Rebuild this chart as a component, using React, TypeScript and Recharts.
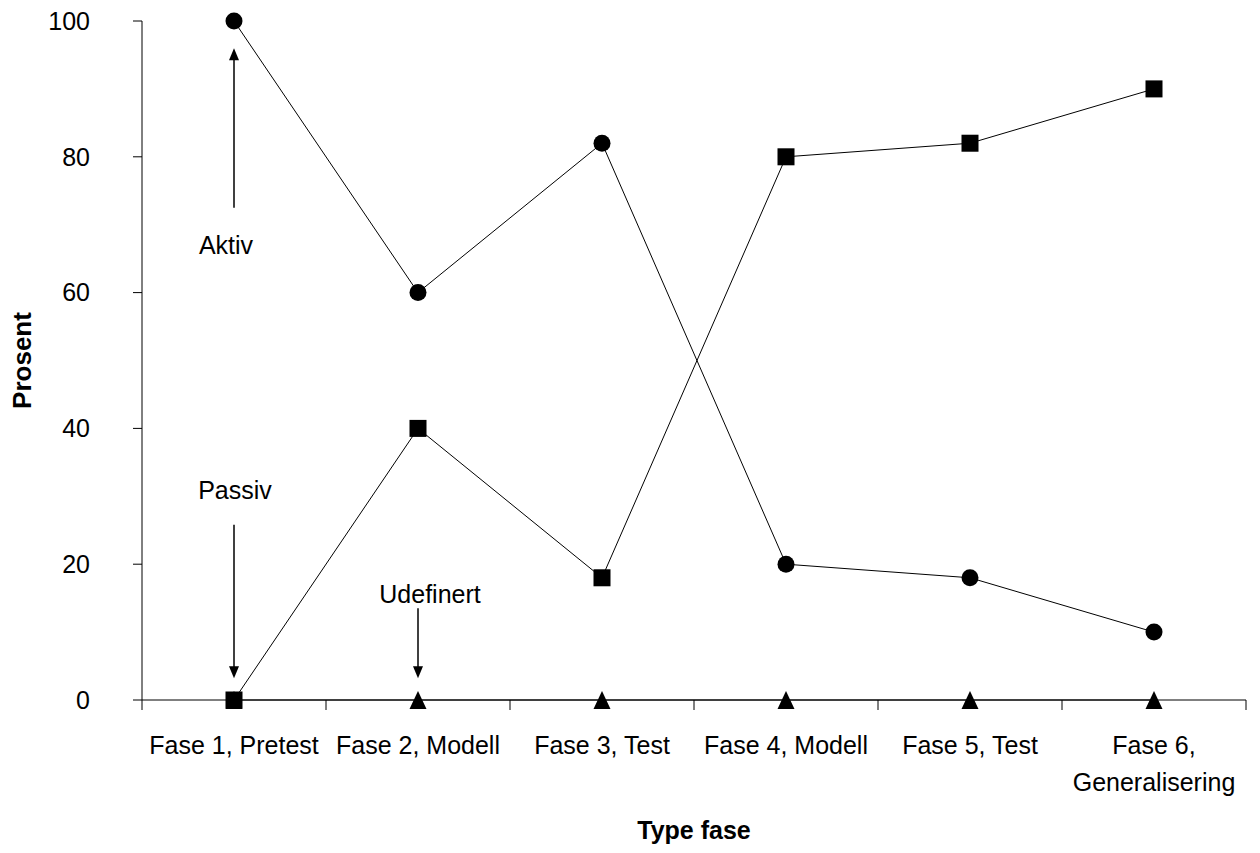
import { LineChart, Line, XAxis, YAxis, ReferenceLine, ReferenceDot, Label } from 'recharts';

const categories = [
  'Fase 1, Pretest',
  'Fase 2, Modell',
  'Fase 3, Test',
  'Fase 4, Modell',
  'Fase 5, Test',
  'Fase 6,\nGeneralisering',
];
const aktiv = [100, 60, 82, 20, 18, 10];
const passiv = [0, 40, 18, 80, 82, 90];
const udefinert = [0, 0, 0, 0, 0, 0];
const yTicks = [0, 20, 40, 60, 80, 100];

// annotation text + arrow (values in percent, category index)
const notes = [
  { text: 'Aktiv', at: 0, textY: 67, from: 72.5, to: 96, dx: -8 },
  { text: 'Passiv', at: 0, textY: 31, from: 25.8, to: 3.2, dx: 1 },
  { text: 'Udefinert', at: 1, textY: 15.6, from: 13.5, to: 3.2, dx: 12 },
];

const data = categories.map((name, i) => ({
  name,
  aktiv: aktiv[i],
  passiv: passiv[i],
  udefinert: udefinert[i],
}));

const W = 1260;
const H = 853;
const LEFT = 142;
const RIGHT = 14;
const PLOT_W = W - LEFT - RIGHT;
const STEP = PLOT_W / categories.length;
const FONT = '"Liberation Sans", Arial, sans-serif';

function CategoryTick(props: any) {
  const { x, y, payload, index } = props;
  const lines = String(payload.value).split('\n');
  return (
    <g>
      <line x1={x - STEP / 2} y1={y} x2={x - STEP / 2} y2={y + 10} stroke="#000" />
      {index === categories.length - 1 && (
        <line x1={x + STEP / 2} y1={y} x2={x + STEP / 2} y2={y + 10} stroke="#000" />
      )}
      <text x={x} y={y + 54} textAnchor="middle" fontSize={25} fill="#000" fontFamily={FONT}>
        {lines.map((l, i) => (
          <tspan key={i} x={x} dy={i === 0 ? 0 : 37}>
            {l}
          </tspan>
        ))}
      </text>
    </g>
  );
}

function Circle(props: any) {
  const { cx, cy } = props;
  return <circle cx={cx} cy={cy} r={8.5} fill="#000" />;
}

function Square(props: any) {
  const { cx, cy } = props;
  return <rect x={cx - 8.5} y={cy - 8.5} width={17} height={17} fill="#000" />;
}

function Triangle(props: any) {
  const { cx, cy } = props;
  return <polygon points={`${cx},${cy - 9} ${cx - 8.5},${cy + 9} ${cx + 8.5},${cy + 9}`} fill="#000" />;
}

function Arrow(props: any) {
  const { x1, y1, x2, y2 } = props;
  const dir = y2 > y1 ? 1 : -1;
  return (
    <g>
      <line x1={x1} y1={y1} x2={x2} y2={y2 - dir * 10} stroke="#000" strokeWidth={1.5} />
      <polygon points={`${x2},${y2} ${x2 - 5},${y2 - dir * 12} ${x2 + 5},${y2 - dir * 12}`} fill="#000" />
    </g>
  );
}

export default function App() {
  return (
    <div style={{ position: 'absolute', left: 0, top: 0, background: '#fff' }}>
      <LineChart width={W} height={H} data={data} margin={{ top: 21, right: RIGHT, bottom: 0, left: 0 }}>
        <XAxis
          dataKey="name"
          height={153}
          interval={0}
          padding={{ left: STEP / 2, right: STEP / 2 }}
          axisLine={{ stroke: '#000' }}
          tickLine={false}
          tickSize={0}
          tickMargin={0}
          tick={<CategoryTick />}
        >
          <Label
            content={({ viewBox }: any) => (
              <text
                x={viewBox.x + viewBox.width / 2}
                y={viewBox.y + 139}
                textAnchor="middle"
                fontSize={25}
                fontWeight="bold"
                fill="#000"
                fontFamily={FONT}
              >
                Type fase
              </text>
            )}
          />
        </XAxis>
        <YAxis
          width={LEFT}
          domain={[0, 100]}
          ticks={yTicks}
          axisLine={{ stroke: '#000' }}
          tickLine={{ stroke: '#000' }}
          tickSize={9}
          tickMargin={43}
          tick={{ fontSize: 25, fill: '#000', fontFamily: FONT }}
        >
          <Label
            content={({ viewBox }: any) => {
              const cx = viewBox.x + 22;
              const cy = viewBox.y + viewBox.height / 2;
              return (
                <text
                  x={cx}
                  y={cy}
                  transform={`rotate(-90, ${cx}, ${cy})`}
                  textAnchor="middle"
                  dominantBaseline="central"
                  fontSize={26}
                  fontWeight="bold"
                  fill="#000"
                  fontFamily={FONT}
                >
                  Prosent
                </text>
              );
            }}
          />
        </YAxis>
        {notes.map((n) => (
          <ReferenceLine
            key={'a' + n.text}
            segment={[
              { x: categories[n.at], y: n.from },
              { x: categories[n.at], y: n.to },
            ]}
            shape={<Arrow />}
          />
        ))}
        {notes.map((n) => (
          <ReferenceDot
            key={'t' + n.text}
            x={categories[n.at]}
            y={n.textY}
            r={0}
            fill="none"
            stroke="none"
            label={{
              content: ({ viewBox }: any) => (
                <text
                  x={viewBox.x + viewBox.width / 2 + n.dx}
                  y={viewBox.y + viewBox.height / 2}
                  textAnchor="middle"
                  dominantBaseline="central"
                  fontSize={25}
                  fill="#000"
                  fontFamily={FONT}
                >
                  {n.text}
                </text>
              ),
            }}
          />
        ))}
        <Line dataKey="udefinert" stroke="#000" strokeWidth={1} dot={<Triangle />} activeDot={false} isAnimationActive={false} />
        <Line dataKey="aktiv" stroke="#000" strokeWidth={1} dot={<Circle />} activeDot={false} isAnimationActive={false} />
        <Line dataKey="passiv" stroke="#000" strokeWidth={1} dot={<Square />} activeDot={false} isAnimationActive={false} />
      </LineChart>
    </div>
  );
}
